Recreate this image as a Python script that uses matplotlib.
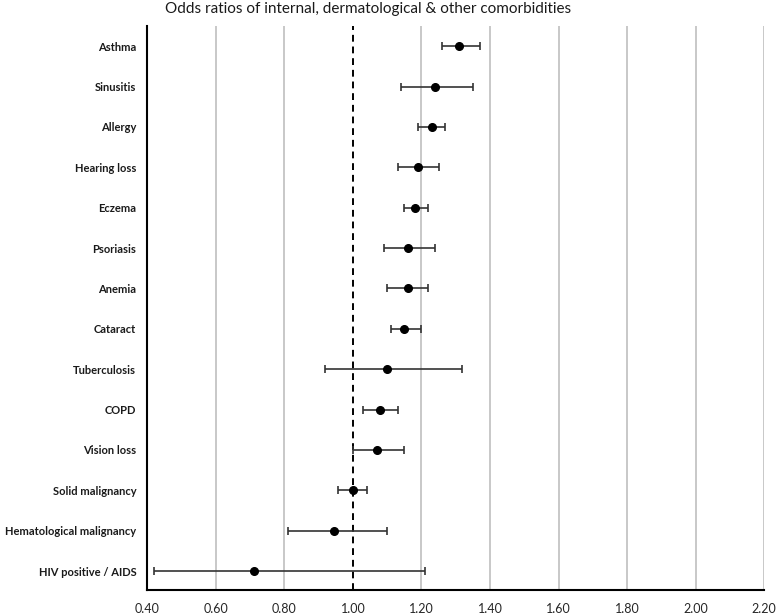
import matplotlib
matplotlib.use("Agg")
import matplotlib.pyplot as plt
import numpy as np

categories = ["Asthma", "Sinusitis", "Allergy", "Hearing loss", "Eczema", "Psoriasis",
              "Anemia", "Cataract", "Tuberculosis", "COPD", "Vision loss",
              "Solid malignancy", "Hematological malignancy", "HIV positive / AIDS"]
odds = [1.31, 1.24, 1.23, 1.19, 1.18, 1.16, 1.16, 1.15, 1.10, 1.08, 1.07, 1.00, 0.944, 0.71]
lower = [1.26, 1.14, 1.19, 1.13, 1.15, 1.09, 1.10, 1.11, 0.917, 1.03, 1.00, 0.957, 0.81, 0.42]
upper = [1.37, 1.35, 1.27, 1.25, 1.22, 1.24, 1.22, 1.20, 1.317, 1.13, 1.15, 1.04, 1.10, 1.21]
xticks = [0.40, 0.60, 0.80, 1.00, 1.20, 1.40, 1.60, 1.80, 2.00, 2.20]

plt.rcParams['font.family'] = ['Lato', 'DejaVu Sans']

fig = plt.figure(figsize=(7.77, 6.13), dpi=100)
ax = fig.add_axes([0.1898, 0.0375, 0.7935, 0.920])

n = len(categories)
y = np.arange(n)[::-1]
odds_a = np.array(odds)
xerr = np.vstack([odds_a - np.array(lower), np.array(upper) - odds_a])

for xt in xticks[1:]:
    if abs(xt - 1.0) > 1e-9:
        ax.axvline(xt, color='#BFBFBF', lw=1.2, zorder=0)
ax.axvline(1.0, color='black', lw=1.4, ls=(0, (3.5, 2.5)), zorder=1)

ax.errorbar(odds, y, xerr=xerr, fmt='o', color='black', ecolor='#333333',
            elinewidth=1.2, capsize=2.6, capthick=1.2, markersize=5.5, zorder=3)

ax.set_xlim(0.40, 2.20)
ax.set_ylim(-0.47, n - 1 + 0.5)
ax.set_xticks(xticks)
ax.set_xticklabels([f"{v:.2f}" for v in xticks], fontsize=9, color='#262626')
ax.set_yticks(y)
ax.set_yticklabels(categories, fontsize=8, fontweight='bold', color='#1a1a1a')
ax.tick_params(axis='both', length=0)
ax.tick_params(axis='x', pad=9)
ax.tick_params(axis='y', pad=8)

for s in ['top', 'right']:
    ax.spines[s].set_visible(False)
for s in ['left', 'bottom']:
    ax.spines[s].set_linewidth(1.5)
    ax.spines[s].set_color('black')

fig.text(0.474, 0.986, "Odds ratios of internal, dermatological & other comorbidities",
         ha='center', va='center', fontsize=11, color='#1a1a1a')

fig.savefig("out.png", dpi=100)
